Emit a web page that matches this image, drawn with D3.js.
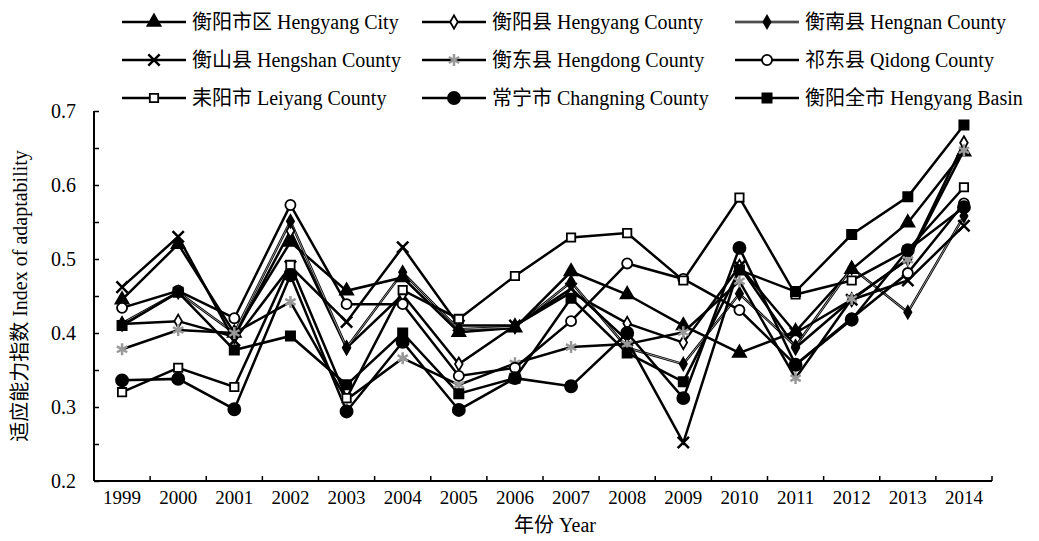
<!DOCTYPE html>
<html>
<head>
<meta charset="utf-8">
<script src="https://cdn.jsdelivr.net/npm/d3@7"></script>
<style>
  body { margin: 0; background: #fff; }
  text { font-family: "Liberation Serif", "Noto Sans CJK SC", serif; fill: #000; }
</style>
</head>
<body>
<div id="chart"></div>
<script>
const years = ["1999", "2000", "2001", "2002", "2003", "2004", "2005", "2006",
    "2007", "2008", "2009", "2010", "2011", "2012", "2013", "2014"];
const yTicks = [0.2, 0.3, 0.4, 0.5, 0.6, 0.7];

const hengyangCity = [0.445, 0.52, 0.40, 0.523, 0.457, 0.475, 0.401, 0.407, 0.483, 0.452, 0.41, 0.373, 0.402, 0.486, 0.549, 0.645];
const hengyangCounty = [0.412, 0.416, 0.395, 0.538, 0.38, 0.452, 0.358, 0.41, 0.455, 0.413, 0.387, 0.49, 0.38, 0.445, 0.50, 0.657];
const hengnan = [0.413, 0.455, 0.40, 0.551, 0.38, 0.482, 0.405, 0.408, 0.469, 0.38, 0.358, 0.453, 0.382, 0.488, 0.428, 0.558];
const hengshan = [0.462, 0.53, 0.39, 0.49, 0.415, 0.516, 0.41, 0.41, 0.46, 0.39, 0.252, 0.49, 0.40, 0.445, 0.471, 0.545];
const hengdong = [0.378, 0.404, 0.40, 0.442, 0.31, 0.366, 0.33, 0.359, 0.381, 0.385, 0.401, 0.47, 0.339, 0.446, 0.499, 0.647];
const qidong = [0.434, 0.457, 0.42, 0.573, 0.439, 0.439, 0.342, 0.353, 0.416, 0.494, 0.473, 0.431, 0.357, 0.42, 0.481, 0.575];
const leiyang = [0.32, 0.353, 0.327, 0.492, 0.312, 0.458, 0.419, 0.477, 0.529, 0.535, 0.471, 0.583, 0.452, 0.471, 0.512, 0.597];
const changning = [0.336, 0.338, 0.297, 0.478, 0.294, 0.388, 0.296, 0.339, 0.328, 0.40, 0.312, 0.515, 0.357, 0.418, 0.512, 0.57];
const basin = [0.41, 0.455, 0.377, 0.396, 0.33, 0.40, 0.318, 0.339, 0.447, 0.373, 0.334, 0.485, 0.456, 0.533, 0.584, 0.681];

const seriesNames = ["衡阳市区 Hengyang City", "衡阳县 Hengyang County", "衡南县 Hengnan County",
    "衡山县 Hengshan County", "衡东县 Hengdong County", "祁东县 Qidong County",
    "耒阳市 Leiyang County", "常宁市 Changning County", "衡阳全市 Hengyang Basin"];
const seriesValues = [hengyangCity, hengyangCounty, hengnan, hengshan, hengdong, qidong, leiyang, changning, basin];

// marker styles, same order as the series
const styles = [
    { sym: d3.symbolTriangle, size: 75, fill: "#000", stroke: "#000" },
    { sym: d3.symbolDiamond, size: 50, fill: "#fff", stroke: "#000" },
    { sym: d3.symbolDiamond, size: 45, fill: "#000", stroke: "#000", grey: true },
    { sym: d3.symbolX, size: 85, fill: "none", stroke: "#000" },
    { sym: d3.symbolAsterisk, size: 100, fill: "none", stroke: "#999" },
    { sym: d3.symbolCircle, size: 80, fill: "#fff", stroke: "#000" },
    { sym: d3.symbolSquare, size: 70, fill: "#fff", stroke: "#000" },
    { sym: d3.symbolCircle, size: 115, fill: "#000", stroke: "#000" },
    { sym: d3.symbolSquare, size: 85, fill: "#000", stroke: "#000" }
];

const wSvg = 1039;
const hSvg = 541;
const padL = 94, padR = 992, padT = 111, padB = 481;

const svg = d3.select("#chart")
    .append("svg")
    .attr("width", wSvg)
    .attr("height", hSvg);

// Scales
const xScale = d3.scaleBand(years, [padL, padR]);
const yScale = d3.scaleLinear([0.2, 0.7], [padB, padT]);
const xc = d => xScale(d) + xScale.bandwidth() / 2;

// Axes
const yAxis = svg.append("g")
    .attr("transform", `translate(${padL}, 0)`)
    .call(d3.axisRight(yScale).tickValues(d3.range(0.2, 0.7001, 0.05)).tickSize(5).tickFormat(""));
yAxis.select(".domain").attr("d", `M0,${padT}V${padB}`).attr("stroke-width", 2);
yAxis.selectAll(".tick line").attr("stroke-width", 1.5);

svg.selectAll(".ylab")
    .data(yTicks)
    .enter()
    .append("text")
    .attr("x", 76)
    .attr("y", d => yScale(d))
    .attr("dy", "0.35em")
    .attr("text-anchor", "end")
    .style("font-size", "20px")
    .text(d => d.toFixed(1));

const xAxis = svg.append("g")
    .attr("transform", `translate(0, ${padB})`)
    .call(d3.axisTop(xScale).tickSize(0).tickFormat(""));
xAxis.select(".domain").attr("d", `M${padL},0H${padR}`).attr("stroke-width", 2);
xAxis.selectAll(".tick").remove();

svg.selectAll(".xtick")
    .data(years.slice(1).concat(["end"]))
    .enter()
    .append("line")
    .attr("x1", d => d == "end" ? padR : xScale(d))
    .attr("x2", d => d == "end" ? padR : xScale(d))
    .attr("y1", padB)
    .attr("y2", padB - 5)
    .attr("stroke", "#000")
    .attr("stroke-width", 1.5);

svg.selectAll(".xlab")
    .data(years)
    .enter()
    .append("text")
    .attr("x", d => xc(d))
    .attr("y", 504)
    .attr("text-anchor", "middle")
    .style("font-size", "19px")
    .text(d => d);

svg.append("text")
    .attr("x", 555)
    .attr("y", 532)
    .attr("text-anchor", "middle")
    .style("font-size", "20px")
    .text("年份 Year");

svg.append("text")
    .attr("transform", "translate(27, 296) rotate(-90)")
    .attr("text-anchor", "middle")
    .style("font-size", "20px")
    .text("适应能力指数 Index of adaptability");

// Lines
const line = d3.line()
    .x((d, i) => xc(years[i]))
    .y(d => yScale(d));

seriesValues.forEach((vals, k) => {
    svg.append("path")
        .attr("d", line(vals))
        .attr("fill", "none")
        .attr("stroke", "#000")
        .attr("stroke-width", 2.5);
    if (styles[k].grey) {
        svg.append("path")
            .attr("d", line(vals))
            .attr("fill", "none")
            .attr("stroke", "#999")
            .attr("stroke-width", 1);
    }
});

// Markers
function drawMarker(g, st, x, y) {
    g.append("path")
        .attr("d", d3.symbol(st.sym, st.size)())
        .attr("transform", `translate(${x}, ${y})`)
        .attr("fill", st.fill)
        .attr("stroke", st.stroke)
        .attr("stroke-width", st.fill == "none" ? 2.5 : 1.8);
}

seriesValues.forEach((vals, k) => {
    vals.forEach((v, i) => drawMarker(svg, styles[k], xc(years[i]), yScale(v)));
});

// Legend
const legendX = [122, 422, 735];
const legendY = [22, 60, 98];
seriesNames.forEach((name, k) => {
    const lx = legendX[k % 3];
    const ly = legendY[Math.floor(k / 3)];
    const g = svg.append("g");
    g.append("line")
        .attr("x1", lx).attr("x2", lx + 64)
        .attr("y1", ly).attr("y2", ly)
        .attr("stroke", "#000")
        .attr("stroke-width", 2.5);
    if (styles[k].grey) {
        g.append("line")
            .attr("x1", lx).attr("x2", lx + 64)
            .attr("y1", ly).attr("y2", ly)
            .attr("stroke", "#999")
            .attr("stroke-width", 1);
    }
    drawMarker(g, styles[k], lx + 32, ly);
    g.append("text")
        .attr("x", lx + 70)
        .attr("y", ly)
        .attr("dy", "0.35em")
        .style("font-size", "20px")
        .text(name);
});
</script>
</body>
</html>
